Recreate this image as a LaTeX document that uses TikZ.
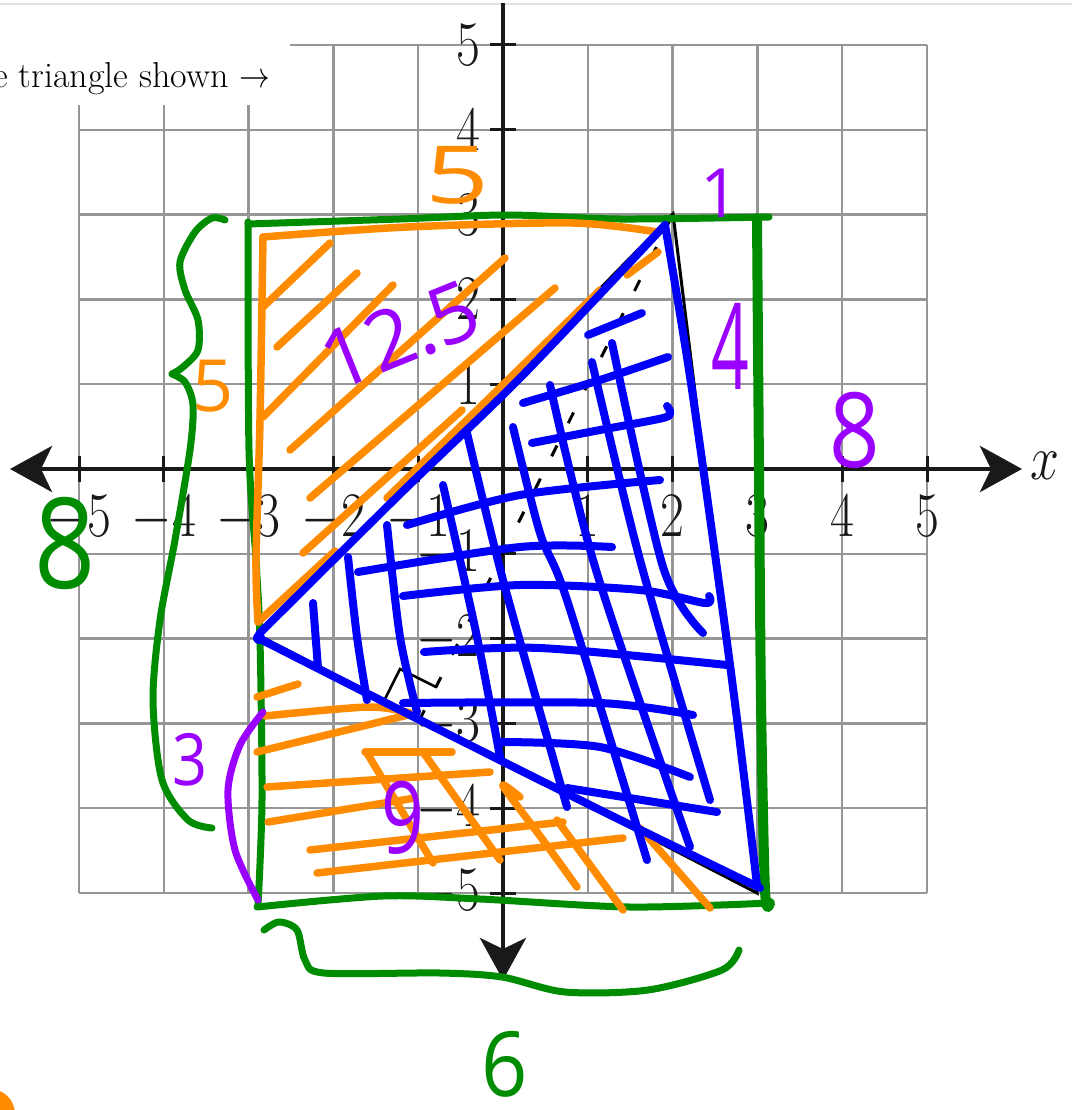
\RequirePackage{fix-cm}
\documentclass[tikz,border=0pt]{standalone}
\usepackage{fontspec}
\newfontfamily\handfont{Open Sans}
\usetikzlibrary{arrows.meta}
\definecolor{hgreen}{RGB}{0,140,0}
\definecolor{horange}{RGB}{255,140,0}
\definecolor{hblue}{RGB}{0,0,250}
\definecolor{hpurple}{RGB}{153,0,255}
\definecolor{gridgray}{RGB}{150,150,150}
\definecolor{axisblack}{RGB}{25,25,25}
\newcommand\hf[1]{\handfont\fontsize{#1}{#1}\selectfont}
\newcommand\tall[1]{\scalebox{1}[1.22]{#1}}
\begin{document}
\begin{tikzpicture}[x=1pt,y=-1pt,
  gridline/.style={draw=gridgray, line width=2.5pt},
  axisline/.style={draw=axisblack, line width=4.5pt},
  tickline/.style={draw=axisblack, line width=3pt},
  ticklab/.style={text=axisblack, inner sep=0pt, font=\fontsize{52}{52}\selectfont},
  origline/.style={draw=black, line width=3pt},
  gpen/.style={draw=hgreen, line width=7pt, line cap=round, line join=round},
  open/.style={draw=horange, line width=7.5pt, line cap=round, line join=round},
  bpen/.style={draw=hblue, line width=8pt, line cap=round, line join=round},
  ppen/.style={draw=hpurple, line width=7pt, line cap=round, line join=round},
  hand/.style={inner sep=0pt, outer sep=0pt},
  bigarrow/.tip={Stealth[length=42pt,width=46pt,inset=11pt]}]
\useasboundingbox (0,0) rectangle (1072,1110);
\fill[white] (0,0) rectangle (1072,1110);
% top separator
\draw[draw=black!12, line width=1.5pt] (0,4) -- (1072,4);
% grid
\foreach \i in {-5,...,5} {
  \draw[gridline] ({503+84.8*\i},45) -- ({503+84.8*\i},893);
  \draw[gridline] (79,{469-84.8*\i}) -- (927,{469-84.8*\i});
}
\fill[white] (0,8) rectangle (290,105);
\node[anchor=base west, inner sep=0pt, font=\fontsize{36}{36}\selectfont] (title) at (-7,88) {e triangle shown \scalebox{0.85}[1]{$\rightarrow$}};
% axes
\coordinate (xl) at (10,469); \coordinate (xr) at (1022,469);
\coordinate (yt) at (503,3); \coordinate (yb) at (503,980);
\draw[axisline, bigarrow-bigarrow] (xl) -- (xr);
\draw[axisline, -bigarrow] (yt) -- (yb);
\node[ticklab] (xlab) at (1045,466) {\tall{$x$}};
\foreach \i in {-5,-4,-3,-2,-1,1,2,3,4,5} {
  \draw[tickline] ({503+84.8*\i},456) -- ({503+84.8*\i},482);
  \draw[tickline] (490,{469-84.8*\i}) -- (516,{469-84.8*\i});
  \node[ticklab, anchor=north] (xt\i) at ({503+84.8*\i},495) {\tall{$\i$}};
  \node[ticklab, anchor=east] (yt\i) at (481,{469-84.8*\i}) {\tall{$\i$}};
}
% original triangle, altitude, right-angle mark
\coordinate (P) at (673,214); \coordinate (Q) at (757,893); \coordinate (R) at (260,636);
\coordinate (F) at (418,723);
\draw[origline] (P) -- (Q) -- (R) -- cycle;
\draw[origline, dash pattern=on 12pt off 25pt] (P) -- (F);
\coordinate (m1) at (436,687); \coordinate (m2) at (400,669); \coordinate (m3) at (382,705);
\draw[draw=black, line width=2.5pt] (m1) -- (m2) -- (m3);
% green rectangle
\draw[gpen] plot[smooth] coordinates {(248,224) (400,219) (507,215) (620,219) (769,217)};
\draw[gpen] plot[smooth] coordinates {(248,222) (249,450) (256,560) (260,640) (262,800) (258,905)};
\draw[gpen] plot[smooth] coordinates {(257,907) (383,896) (480,899) (630,907) (770,903)};
\draw[gpen, line width=10pt] plot[smooth] coordinates {(757,218) (759,470) (761,700) (765,890) (770,903)};
% orange upper triangle with hatch
\draw[open] plot[smooth] coordinates {(263,237) (407,227) (573,223) (657,232)};
\draw[open] plot[smooth] coordinates {(263,237) (260,420) (256,560) (258,622)};
\draw[open] (258,622) -- (335,551);
\draw[open] (387,498) -- (600,290);
\draw[open] (627,275) -- (658,252);
\draw[open] (263,307) -- (330,243);
\draw[open] (277,347) -- (357,273);
\draw[open] (263,417) -- (393,285);
\draw[open] (290,450) -- (505,258);
\draw[open] (310,498) -- (555,288);
\draw[open] (303,553) -- (462,410);
% orange lower hatch
\draw[open] (257,697) -- (298,684);
\draw[open] plot[smooth] coordinates {(265,716) (368,707) (410,713)};
\draw[open] (257,752) -- (408,715);
\draw[open] (267,787) -- (490,772);
\draw[open] (268,822) -- (415,798);
\draw[open] (310,850) -- (563,822);
\draw[open] (317,873) -- (623,838);
\draw[open] (365,752) -- (452,752);
\draw[open] (367,753) -- (433,863);
\draw[open] (423,752) -- (500,860);
\draw[open] plot[smooth] coordinates {(520,797) (503,786) (540,836) (577,887)};
\draw[open] (557,820) -- (623,910);
\draw[open] (640,828) -- (710,908);
% blue triangle
\draw[bpen] plot[smooth] coordinates {(259,634) (400,494) (520,378) (665,225)};
\draw[bpen] plot[smooth] coordinates {(665,225) (692,390) (732,680) (757,885)};
\draw[bpen] plot[smooth] coordinates {(262,640) (400,710) (600,810) (760,888)};
% blue cross-hatch
\draw[bpen] (588,335) -- (642,313);
\draw[bpen] plot[smooth] coordinates {(523,403) (600,380) (668,357)};
\draw[bpen] plot[smooth] coordinates {(532,443) (600,430) (663,418) (670,412) (667,406)};
\draw[bpen] plot[smooth] coordinates {(407,525) (520,495) (660,480)};
\draw[bpen] plot[smooth] coordinates {(358,572) (520,547) (612,547)};
\draw[bpen] plot[smooth] coordinates {(403,596) (520,585) (640,590) (705,603) (709,596)};
\draw[bpen] plot[smooth] coordinates {(424,652) (540,648) (727,665)};
\draw[bpen] plot[smooth] coordinates {(403,703) (600,703) (693,715)};
\draw[bpen] plot[smooth] coordinates {(500,742) (600,747) (690,777)};
\draw[bpen] (567,788) -- (717,812);
\draw[bpen] (313,603) -- (318,668);
\draw[bpen] plot[smooth] coordinates {(348,557) (357,637) (367,700)};
\draw[bpen] plot[smooth] coordinates {(387,525) (400,637) (417,712)};
\draw[bpen] plot[smooth] coordinates {(443,485) (477,637) (500,757)};
\draw[bpen] plot[smooth] coordinates {(467,433) (503,580) (567,807)};
\draw[bpen] plot[smooth] coordinates {(513,427) (540,533) (567,600) (647,860)};
\draw[bpen] plot[smooth] coordinates {(550,385) (596,570) (690,847)};
\draw[bpen] plot[smooth] coordinates {(592,362) (640,560) (710,800)};
\draw[bpen] plot[smooth] coordinates {(612,343) (663,567) (703,633)};
\fill[hblue] (259,638) circle (6);
% purple bracket
\draw[ppen] plot[smooth] coordinates {(263,712) (240,745) (228,790) (235,850) (258,900)};
% green braces
\draw[gpen] plot[smooth] coordinates {(225,220) (212,218) (195,232) (180,262) (185,290) (198,320) (198,350) (183,367) (172,374)};
\draw[gpen] plot[smooth] coordinates {(172,374) (185,382) (193,405) (190,450) (175,540) (160,620) (153,700) (162,780) (188,820) (212,828)};
\draw[gpen] plot[smooth] coordinates {(264,930) (279,922) (297,930) (305,960) (324,973) (440,973) (502,977) (565,992) (648,990) (722,970) (739,950)};
% hand-written labels
\node[hand, text=horange, font=\hf{80}] (topfive) at (458,175) {\scalebox{1.4}[1]{5}};
\node[hand, text=horange, font=\hf{72}] (leftfive) at (213,386) {5};
\node[hand, text=hpurple, font=\hf{82}, rotate=22] (area1) at (400,335) {12.5};
\node[hand, text=hpurple, font=\hf{68}] (one) at (720,193) {1};
\node[hand, text=hpurple, font=\hf{120}] (four) at (730,346) {\scalebox{0.55}[1]{4}};
\node[hand, text=hpurple, font=\hf{104}] (eightR) at (855,430) {\scalebox{0.85}[1]{8}};
\node[hand, text=hgreen, font=\hf{126}] (eightL) at (65,543) {\scalebox{0.85}[1]{8}};
\node[hand, text=hpurple, font=\hf{72}] (three) at (190,760) {\scalebox{0.85}[1]{3}};
\node[hand, text=hpurple, font=\hf{100}] (nine) at (403,818) {\scalebox{0.75}[1]{9}};
\node[hand, text=hgreen, font=\hf{90}] (six) at (505,1064) {\scalebox{0.9}[1]{6}};
% orange corner mark
\fill[horange] (-10,1114) circle (25);
\end{tikzpicture}
\end{document}
